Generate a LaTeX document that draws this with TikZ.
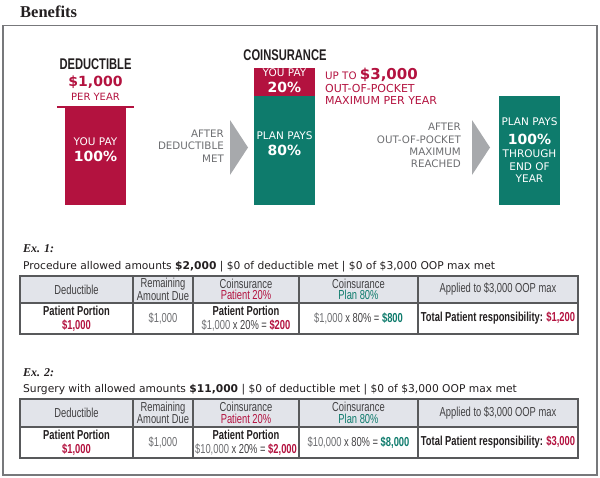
\documentclass[tikz,border=0pt]{standalone}
\usepackage{fontspec}
\setmainfont{DejaVu Sans}
\newfontfamily\condfont[FakeStretch=0.72]{Liberation Sans}
\newfontfamily\headfont{Liberation Serif}
\usetikzlibrary{positioning}

\definecolor{payred}{HTML}{B3123F}
\definecolor{plangreen}{HTML}{0E7B6C}
\definecolor{arrowgray}{HTML}{A7A9AC}
\definecolor{notegray}{HTML}{6D6E71}
\definecolor{framegray}{HTML}{77787B}
\definecolor{headfill}{HTML}{E2E4EA}
\definecolor{tabline}{HTML}{58595B}
\definecolor{tabtext}{HTML}{414042}
\definecolor{inktext}{HTML}{231F20}

\begin{document}
\begin{tikzpicture}[x=1pt, y=-1pt, every node/.style={inner sep=0pt},
  bar/.style={minimum width=61},
  inbox/.style={text=white, align=center, font=\fontsize{10.5}{12.5}\selectfont},
  bignum/.style={text=white, font=\fontsize{14}{14}\selectfont\bfseries},
  title/.style={text=inktext, font=\condfont\fontsize{15.5}{15.5}\selectfont\bfseries},
  note/.style={text=notegray, align=right, anchor=east, font=\fontsize{10.3}{12.3}\selectfont},
  redline/.style={text=payred, font=\fontsize{11}{11.7}\selectfont},
  exhead/.style={anchor=base west, text=inktext, font=\headfont\bfseries\itshape\fontsize{12}{12}\selectfont},
  exline/.style={anchor=base west, text=inktext, font=\fontsize{10.7}{10.7}\selectfont},
  hcell/.style={draw=tabline, line width=1.2, fill=headfill, text=tabtext, align=center,
    font=\condfont\fontsize{13}{11.5}\selectfont},
  bcell/.style={draw=tabline, line width=1.2, text=inktext, align=center,
    font=\condfont\fontsize{13}{14}\selectfont}]

\useasboundingbox (0,0) rectangle (600,477);

\node[anchor=base west, text=inktext, font=\headfont\bfseries\fontsize{16.5}{16.5}\selectfont] (benefits) at (20,17.5) {Benefits};
\draw[framegray, line width=1.8] (3.3,25.5) rectangle (596.7,475);

%deductible column
\node[title] (dedhead) at (95.5,64) {DEDUCTIBLE};
\node[text=payred, font=\fontsize{14}{14}\selectfont\bfseries] (dedamt) at (95.5,82) {\$1,000};
\node[text=payred, font=\fontsize{10}{10}\selectfont] (dedyear) at (95.5,97) {PER YEAR};
\node[bar, fill=payred, minimum height=98] (dedbar) at (95.5,156) {};
\draw[payred, line width=1.6] ([xshift=-8]dedbar.north west) -- ([xshift=8]dedbar.north east);
\node[inbox] (dedyou) at (95.5,142) {YOU PAY};
\node[bignum] (dedpct) at (95.5,156.5) {100\%};

%arrow: deductible -> coinsurance
\node[note] (afterded) at (224,146) {AFTER\\DEDUCTIBLE\\MET};
\fill[arrowgray] (230,120) -- (248,147.5) -- (230,175) -- cycle;

%coinsurance column
\node[bar, fill=payred, minimum height=28] (coinyou) at (284.5,82) {};
\node[bar, fill=plangreen, minimum height=109, below=0pt of coinyou] (coinplan) {};
\node[title] (coinhead) at (285,55) {COINSURANCE};
\node[inbox] (coinyoutxt) at (284.5,73) {YOU PAY};
\node[bignum] (coinyoupct) at (284.5,87) {20\%};
\node[inbox] (coinplantxt) at (284.5,136) {PLAN PAYS};
\node[bignum] (coinplanpct) at (284.5,150) {80\%};

\node[anchor=base west, text=payred] (oopmax) at (325,79.5)
  {{\fontsize{10.3}{12}\selectfont UP TO }{\fontsize{15}{15}\selectfont\bfseries\$3,000}};
\node[redline, anchor=north west, align=left] (ooptext) at (325,84.3) {OUT-OF-POCKET\\MAXIMUM PER YEAR};

%arrow: coinsurance -> plan pays all
\node[note] (afteroop) at (461,145.5) {AFTER\\OUT-OF-POCKET\\MAXIMUM\\REACHED};
\fill[arrowgray] (472,120) -- (490,147.5) -- (472,175) -- cycle;

%plan pays 100%
\node[bar, fill=plangreen, minimum height=109] (fullplan) at (529.5,150.5) {};
\node[inbox] (fulltop) at (529.5,122) {PLAN PAYS};
\node[bignum] (fullpct) at (529.5,139) {100\%};
\node[inbox] (fullrest) at (529.5,166.5) {THROUGH\\END OF\\YEAR};

%example 1
\node[exhead] (exone) at (23,252) {Ex. 1:};
\node[exline] (exonetext) at (23,269.5) {Procedure allowed amounts \textbf{\$2,000} | \$0 of deductible met | \$0 of \$3,000 OOP max met};

\node[hcell, minimum width=113, minimum height=27] (oneded) at (76.5,289.5) {Deductible};
\node[hcell, minimum width=60, minimum height=27] (onerem) at (163,289.5) {Remaining\\Amount Due};
\node[hcell, minimum width=106, minimum height=27] (onepat) at (246,289.5) {Coinsurance\\\textcolor{payred}{Patient 20\%}};
\node[hcell, minimum width=119, minimum height=27] (oneplan) at (358.5,289.5) {Coinsurance\\\textcolor{plangreen}{Plan 80\%}};
\node[hcell, minimum width=160, minimum height=27] (oneoop) at (498,289.5) {Applied to \$3,000 OOP max};

\node[bcell, minimum width=113, minimum height=31] (onededv) at (76.5,318.5) {\textbf{Patient Portion}\\\textbf{\textcolor{payred}{\$1,000}}};
\node[bcell, minimum width=60, minimum height=31] (oneremv) at (163,318.5) {\textcolor{notegray}{\$1,000}};
\node[bcell, minimum width=106, minimum height=31] (onepatv) at (246,318.5) {\textbf{Patient Portion}\\\textcolor{notegray}{\$1,000} \textcolor{tabtext}{x 20\% =} \textbf{\textcolor{payred}{\$200}}};
\node[bcell, minimum width=119, minimum height=31] (oneplanv) at (358.5,318.5) {\textcolor{notegray}{\$1,000} \textcolor{tabtext}{x 80\% =} \textbf{\textcolor{plangreen}{\$800}}};
\node[bcell, minimum width=160, minimum height=31] (oneoopv) at (498,318.5) {\textbf{Total Patient responsibility: \textcolor{payred}{\$1,200}}};

%example 2
\node[exhead] (extwo) at (23,376) {Ex. 2:};
\node[exline] (extwotext) at (23,392.5) {Surgery with allowed amounts \textbf{\$11,000} | \$0 of deductible met | \$0 of \$3,000 OOP max met};

\node[hcell, minimum width=113, minimum height=28] (twoded) at (76.5,413) {Deductible};
\node[hcell, minimum width=60, minimum height=28] (tworem) at (163,413) {Remaining\\Amount Due};
\node[hcell, minimum width=106, minimum height=28] (twopat) at (246,413) {Coinsurance\\\textcolor{payred}{Patient 20\%}};
\node[hcell, minimum width=119, minimum height=28] (twoplan) at (358.5,413) {Coinsurance\\\textcolor{plangreen}{Plan 80\%}};
\node[hcell, minimum width=160, minimum height=28] (twooop) at (498,413) {Applied to \$3,000 OOP max};

\node[bcell, minimum width=113, minimum height=31] (twodedv) at (76.5,442.5) {\textbf{Patient Portion}\\\textbf{\textcolor{payred}{\$1,000}}};
\node[bcell, minimum width=60, minimum height=31] (tworemv) at (163,442.5) {\textcolor{notegray}{\$1,000}};
\node[bcell, minimum width=106, minimum height=31] (twopatv) at (246,442.5) {\textbf{Patient Portion}\\\textcolor{notegray}{\$10,000} \textcolor{tabtext}{x 20\% =} \textbf{\textcolor{payred}{\$2,000}}};
\node[bcell, minimum width=119, minimum height=31] (twoplanv) at (358.5,442.5) {\textcolor{notegray}{\$10,000} \textcolor{tabtext}{x 80\% =} \textbf{\textcolor{plangreen}{\$8,000}}};
\node[bcell, minimum width=160, minimum height=31] (twooopv) at (498,442.5) {\textbf{Total Patient responsibility: \textcolor{payred}{\$3,000}}};

\end{tikzpicture}
\end{document}
